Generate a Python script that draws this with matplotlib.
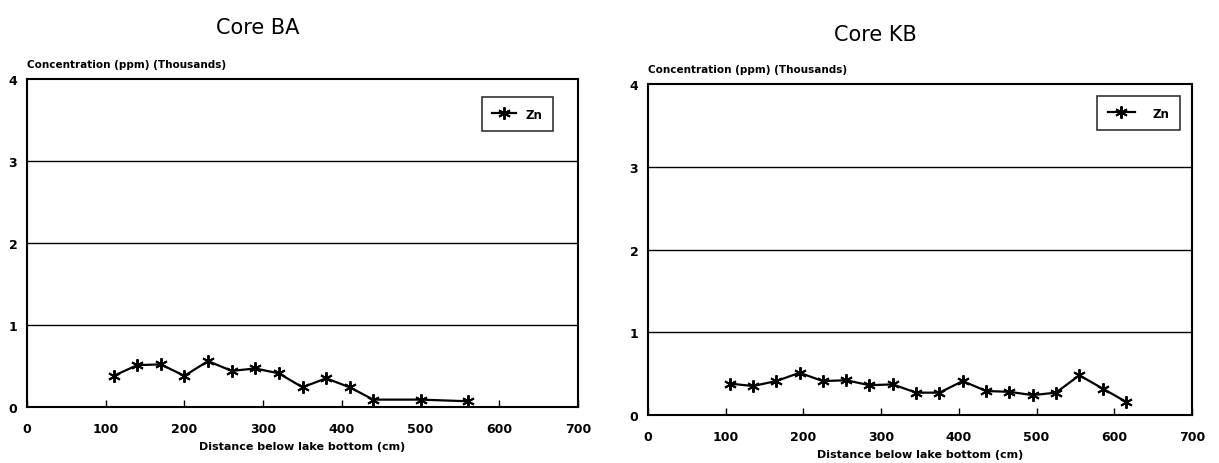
import matplotlib
matplotlib.use("Agg")
import matplotlib.pyplot as plt

# Core BA data
ba_depth = [110, 140, 170, 200, 230, 260, 290, 320, 350, 380, 410, 440, 500, 560]
ba_zn = [0.38, 0.51, 0.52, 0.38, 0.56, 0.44, 0.47, 0.41, 0.24, 0.35, 0.24, 0.09, 0.09, 0.07]

# Core KB data
kb_depth = [105, 135, 165, 195, 225, 255, 285, 315, 345, 375, 405, 435, 465, 495, 525, 555, 585, 615]
kb_zn = [0.38, 0.35, 0.41, 0.51, 0.41, 0.42, 0.36, 0.37, 0.27, 0.27, 0.41, 0.29, 0.28, 0.24, 0.27, 0.48, 0.32, 0.16]

x_ticks = [0, 100, 200, 300, 400, 500, 600, 700]
y_ticks = [0, 1, 2, 3, 4]
titles = ["Core BA", "Core KB"]
series_name = "Zn"
ylabel = "Concentration (ppm) (Thousands)"
xlabel = "Distance below lake bottom (cm)"

plt.rcParams['font.family'] = ['DejaVu Sans']

fig = plt.figure(figsize=(12.19, 4.64), dpi=100)
rects = [
    [27/1219, 1-408/464, 551/1219, 328/464],
    [648/1219, 1-416/464, 544/1219, 331/464],
]
data = [(ba_depth, ba_zn), (kb_depth, kb_zn)]
title_y = [1-28/464, 1-35/464]
title_x = [258/1219, 875/1219]
leg_anchor = [((553-27)/551, (408-98)/328), ((1180-648)/544, (416-97)/331)]
leg_textpad = [0.8, 1.5]
leg_handlelen = [2.0, 2.3]

for i, (rect, (xd, yd)) in enumerate(zip(rects, data)):
    ax = fig.add_axes(rect)
    ax.set_xlim(0, 700)
    ax.set_ylim(0, 4)
    for g in [1, 2, 3]:
        ax.axhline(g, color='black', lw=1.0, zorder=1)
    ax.plot(xd, yd, color='black', lw=1.6, marker=(6, 2, 0), markersize=9,
            markeredgewidth=1.4, label=series_name, zorder=3)
    ax.set_xticks(x_ticks)
    ax.set_xticklabels([str(t) for t in x_ticks], fontsize=9, fontweight='bold')
    ax.set_yticks(y_ticks)
    ax.set_yticklabels([str(t) for t in y_ticks], fontsize=9, fontweight='bold')
    ax.tick_params(axis='x', direction='in', length=5, width=1, pad=11)
    ax.tick_params(axis='y', length=0, pad=7)
    for s in ax.spines.values():
        s.set_linewidth(1.5)
    ax.set_xlabel(xlabel, fontsize=8, fontweight='bold', labelpad=4)
    ax.text(0.0, 1.03, ylabel, transform=ax.transAxes, fontsize=7.5,
            fontweight='bold', ha='left', va='bottom')
    leg = ax.legend(loc='upper right', bbox_to_anchor=leg_anchor[i], borderaxespad=0,
                    frameon=True, fancybox=False, edgecolor='black',
                    handlelength=leg_handlelen[i], borderpad=0.9,
                    handletextpad=leg_textpad[i],
                    prop={'weight': 'bold', 'size': 8.5})
    leg.get_frame().set_linewidth(1.2)
    fig.text(title_x[i], title_y[i], titles[i], fontsize=15, ha='center', va='center')

fig.savefig("out.png", dpi=100)
